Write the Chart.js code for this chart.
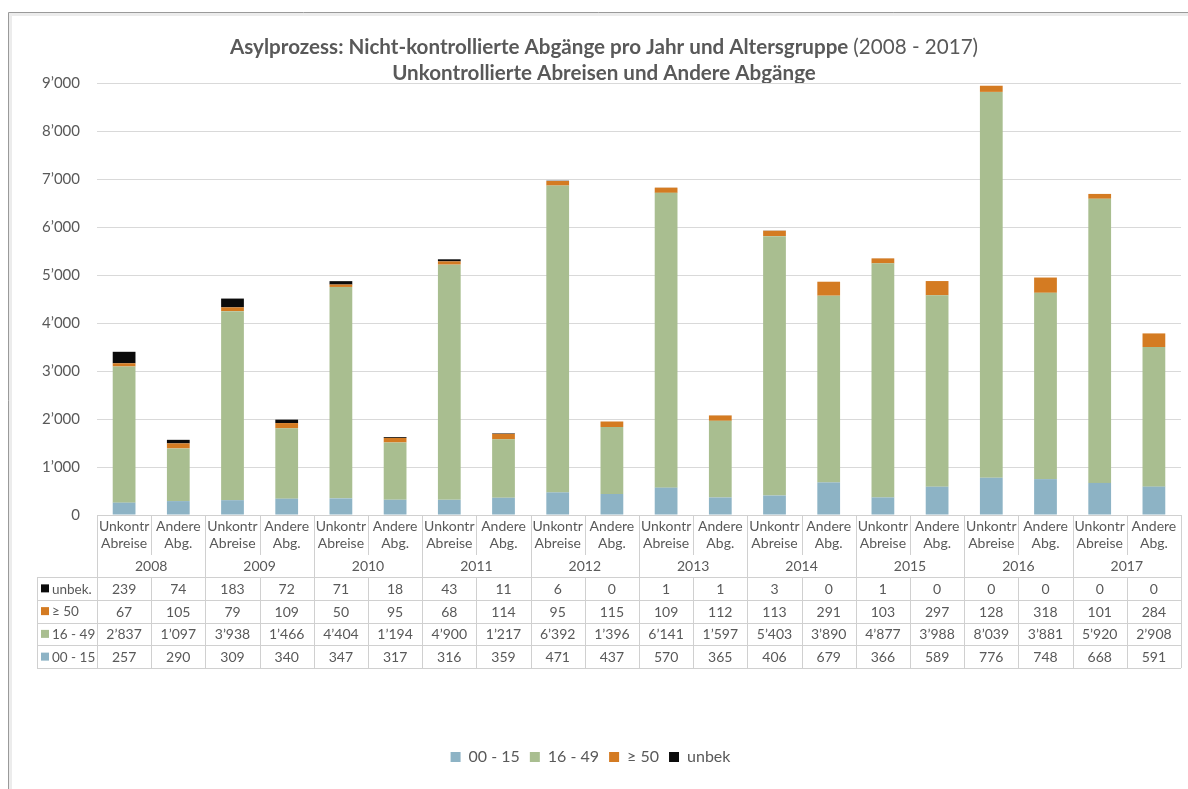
<!DOCTYPE html>
<html>
<head>
<meta charset="utf-8">
<script src="https://cdn.jsdelivr.net/npm/chart.js@4.4.1/dist/chart.umd.min.js"></script>
<style>
  html, body { margin: 0; padding: 0; background: #fff; }
  #wrap { width: 1188px; height: 789px; }
</style>
</head>
<body>
<div id="wrap"><canvas id="asylChart" width="1188" height="789"></canvas></div>
<script>
// Years and the two departure types per year
const years = ['2008', '2009', '2010', '2011', '2012', '2013', '2014', '2015', '2016', '2017'];
const subLabels = [['Unkontr', 'Abreise'], ['Andere', 'Abg.']];

// Values per age group, column order: year x (Unkontr. Abreise, Andere Abg.)
const age0015 = [257, 290, 309, 340, 347, 317, 316, 359, 471, 437, 570, 365, 406, 679, 366, 589, 776, 748, 668, 591];
const age1649 = [2837, 1097, 3938, 1466, 4404, 1194, 4900, 1217, 6392, 1396, 6141, 1597, 5403, 3890, 4877, 3988, 8039, 3881, 5920, 2908];
const age50plus = [67, 105, 79, 109, 50, 95, 68, 114, 95, 115, 109, 112, 113, 291, 103, 297, 128, 318, 101, 284];
const ageUnknown = [239, 74, 183, 72, 71, 18, 43, 11, 6, 0, 1, 1, 3, 0, 1, 0, 0, 0, 0, 0];

const seriesNames = ['00 - 15', '16 - 49', '\u2265 50', 'unbek'];
const tableRowNames = ['unbek.', '\u2265 50', '16 - 49', '00 - 15'];
const yTicks = [0, 1000, 2000, 3000, 4000, 5000, 6000, 7000, 8000, 9000];

const colors = ['#8db3c5', '#a9be90', '#d47b22', '#0b0b0b'];
const textColor = '#595959';
const lineColor = '#d0d0d0';
const fontFamily = 'Lato, "Open Sans", sans-serif';

const categories = [];
years.forEach(y => subLabels.forEach(s => categories.push(y + ' ' + s.join(' '))));

function fmt(v) {
    return String(v).replace(/\B(?=(\d{3})+(?!\d))/g, '\u2019');
}

// Frame and title drawn straight on the canvas
const framePlugin = {
    id: 'frame',
    beforeDraw(chart) {
        const c = chart.ctx;
        c.save();
        c.fillStyle = '#fff';
        c.fillRect(0, 0, chart.width, chart.height);
        c.strokeStyle = '#ececec';
        c.lineWidth = 3;
        c.beginPath();
        c.moveTo(10.5, chart.height);
        c.lineTo(10.5, 14.5);
        c.lineTo(chart.width, 14.5);
        c.stroke();
        c.strokeStyle = '#9a9a9a';
        c.lineWidth = 1;
        c.beginPath();
        c.moveTo(8.5, chart.height);
        c.lineTo(8.5, 12.5);
        c.lineTo(chart.width, 12.5);
        c.stroke();

        // title, bold part + plain year range
        const cx = 604;
        const boldPart = 'Asylprozess: Nicht-kontrollierte Abgänge pro Jahr und Altersgruppe ';
        const plainPart = '(2008 - 2017)';
        const size = 20.6;
        c.fillStyle = textColor;
        c.textBaseline = 'middle';
        c.font = 'bold ' + size + 'px ' + fontFamily;
        const wb = c.measureText(boldPart).width;
        c.font = size + 'px ' + fontFamily;
        const wp = c.measureText(plainPart).width;
        const x0 = cx - (wb + wp) / 2;
        c.textAlign = 'left';
        c.font = 'bold ' + size + 'px ' + fontFamily;
        c.fillText(boldPart, x0, 47);
        c.font = size + 'px ' + fontFamily;
        c.fillText(plainPart, x0 + wb, 47);
        c.textAlign = 'center';
        c.font = 'bold ' + size + 'px ' + fontFamily;
        c.fillText('Unkontrollierte Abreisen und Andere Abgänge', cx, 73);
        c.restore();
    }
};

// Data table under the bars, columns taken from the x scale
const tablePlugin = {
    id: 'dataTable',
    afterDraw(chart) {
        const c = chart.ctx;
        const xs = chart.scales.x;
        const n = categories.length;
        const colW = (xs.right - xs.left) / n;
        const top = chart.chartArea.bottom;
        const subBottom = top + 40;
        const rowTop = top + 62;
        const rowH = 22.75;
        const tableBottom = rowTop + rowH * 4;
        const legendLeft = 37;
        const rows = [ageUnknown, age50plus, age1649, age0015];
        const rowColors = [colors[3], colors[2], colors[1], colors[0]];

        c.save();
        c.strokeStyle = lineColor;
        c.lineWidth = 1;
        c.beginPath();
        // top line (axis)
        c.moveTo(xs.left, Math.round(top) + 0.5);
        c.lineTo(xs.right, Math.round(top) + 0.5);
        // row lines
        for (let r = 0; r <= 4; r++) {
            const y = Math.round(rowTop + r * rowH) + 0.5;
            c.moveTo(legendLeft, y);
            c.lineTo(xs.right, y);
        }
        c.moveTo(legendLeft + 0.5, rowTop);
        c.lineTo(legendLeft + 0.5, tableBottom);
        // column separators
        for (let i = 0; i <= n; i++) {
            const x = Math.round(xs.left + i * colW) + 0.5;
            if (i % 2 === 0) {
                c.moveTo(x, top);
                c.lineTo(x, tableBottom);
            } else {
                c.moveTo(x, top);
                c.lineTo(x, subBottom);
                c.moveTo(x, rowTop);
                c.lineTo(x, tableBottom);
            }
        }
        c.stroke();

        c.fillStyle = textColor;
        c.textAlign = 'center';
        c.textBaseline = 'middle';
        c.font = '14px ' + fontFamily;
        for (let i = 0; i < n; i++) {
            const cx = xs.getPixelForValue(i);
            const lbl = subLabels[i % 2];
            c.fillText(lbl[0], cx, top + 11);
            c.fillText(lbl[1], cx, top + 28);
            rows.forEach((vals, r) => {
                c.fillText(fmt(vals[i]), cx, rowTop + r * rowH + rowH / 2 + 1);
            });
        }
        years.forEach((yr, k) => {
            const cx = xs.left + (2 * k + 1) * colW;
            c.fillText(yr, cx, top + 51);
        });

        // row legend keys
        c.textAlign = 'left';
        c.font = '13.5px ' + fontFamily;
        tableRowNames.forEach((name, r) => {
            const cy = rowTop + r * rowH + rowH / 2;
            c.fillStyle = rowColors[r];
            c.fillRect(41, cy - 4, 8, 8);
            c.fillStyle = textColor;
            c.fillText(name, 52, cy + 1);
        });
        c.restore();
    }
};

const ctx = document.getElementById('asylChart').getContext('2d');
const asylChart = new Chart(ctx, {
    type: 'bar',
    data: {
        labels: categories,
        datasets: [
            { label: seriesNames[0], data: age0015, backgroundColor: colors[0] },
            { label: seriesNames[1], data: age1649, backgroundColor: colors[1] },
            { label: seriesNames[2], data: age50plus, backgroundColor: colors[2] },
            { label: seriesNames[3], data: ageUnknown, backgroundColor: colors[3] }
        ]
    },
    options: {
        responsive: false,
        animation: false,
        barPercentage: 0.42,
        categoryPercentage: 1.0,
        layout: { padding: { left: 0, right: 7, top: 83, bottom: 14 } },
        plugins: {
            legend: {
                position: 'bottom',
                labels: {
                    color: textColor,
                    boxWidth: 10,
                    boxHeight: 10,
                    padding: 10,
                    font: { family: fontFamily, size: 16 }
                }
            },
            tooltip: { enabled: false },
            title: { display: false }
        },
        scales: {
            x: {
                stacked: true,
                grid: { display: false },
                border: { display: false },
                ticks: { display: false },
                afterFit(scale) { scale.height = 224; }
            },
            y: {
                stacked: true,
                min: yTicks[0],
                max: yTicks[yTicks.length - 1],
                afterBuildTicks(scale) { scale.ticks = yTicks.map(v => ({ value: v })); },
                grid: { color: '#d9d9d9', drawTicks: false },
                border: { display: false },
                ticks: {
                    color: textColor,
                    padding: 17,
                    font: { family: fontFamily, size: 15 },
                    callback: v => fmt(v)
                },
                afterFit(scale) { scale.width = 97; }
            }
        }
    },
    plugins: [framePlugin, tablePlugin]
});
</script>
</body>
</html>
